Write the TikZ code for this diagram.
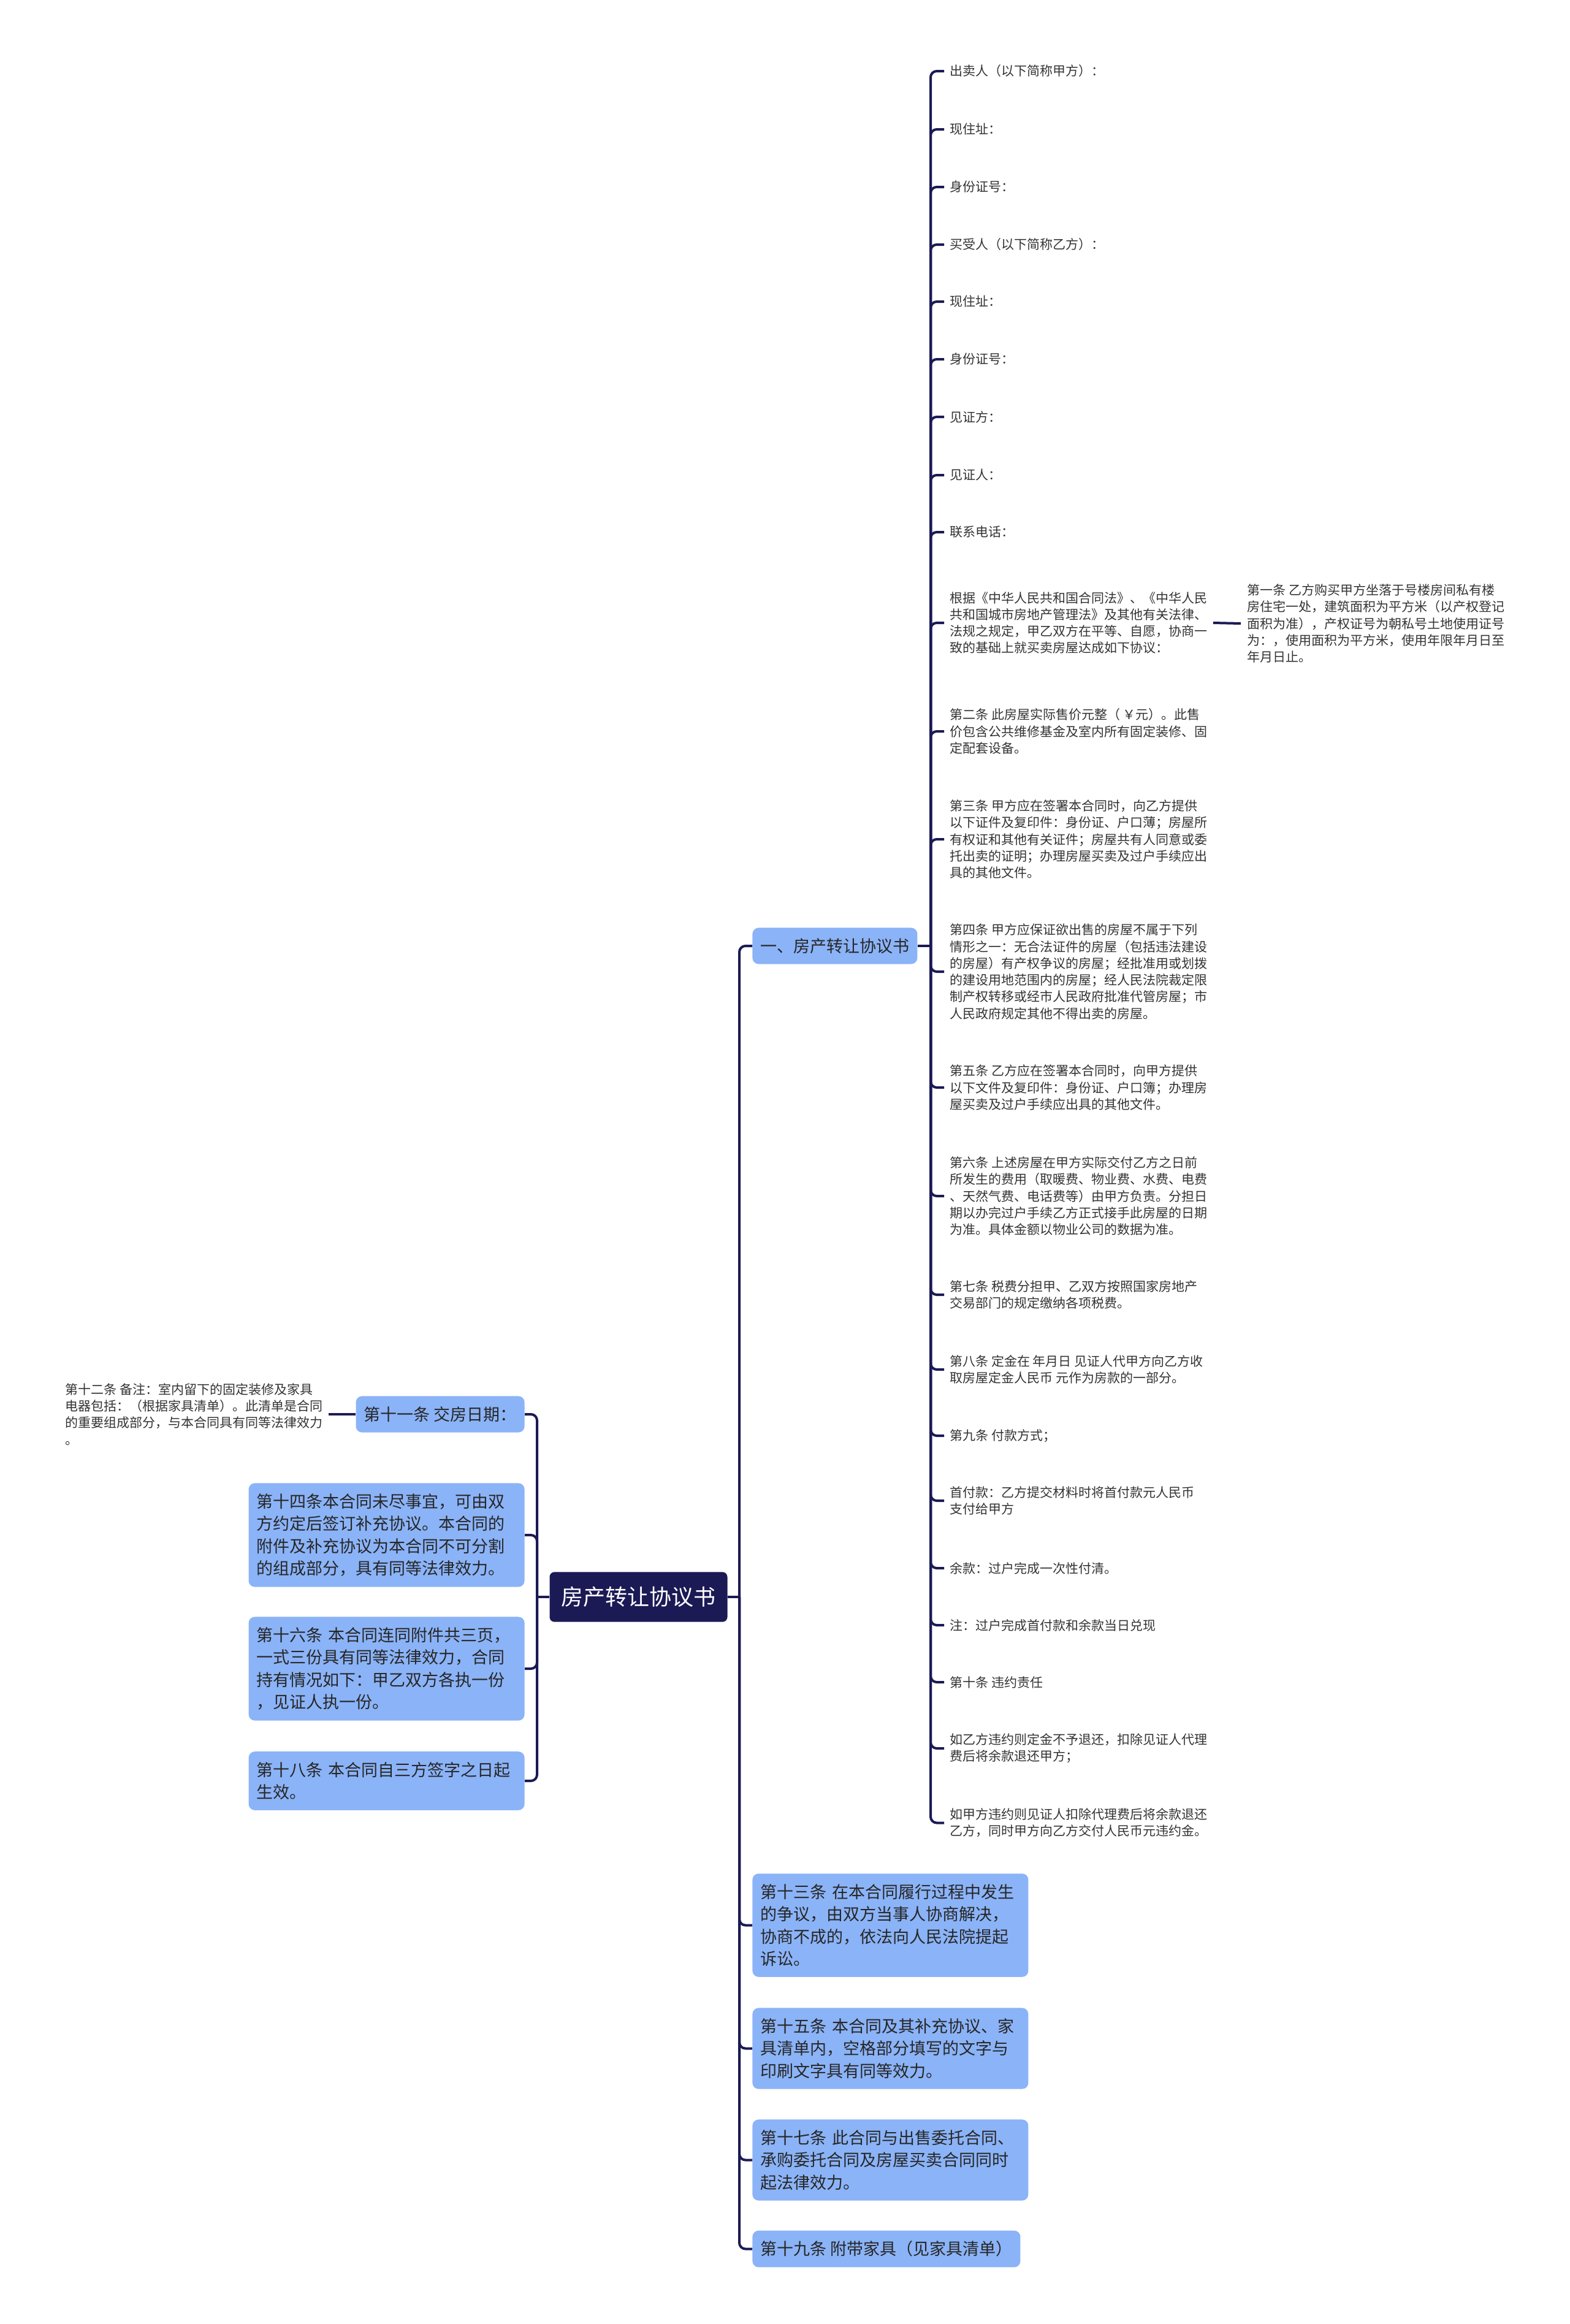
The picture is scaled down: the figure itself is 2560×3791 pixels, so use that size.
\documentclass[tikz,border=0pt]{standalone}
\usepackage{fontspec}
\setmainfont{Noto Sans CJK SC}
\definecolor{navy}{RGB}{27,26,85}
\definecolor{skyfill}{RGB}{139,179,247}
\definecolor{leaftext}{RGB}{51,51,51}
\begin{document}
\begin{tikzpicture}[x=0.5pt, y=-0.5pt,
        topic/.style={rectangle, fill=navy, rounded corners=4pt, text=white, font=\fontsize{18pt}{22pt}\selectfont, inner xsep=9.5pt, inner ysep=12pt},
        bluebox/.style={rectangle, fill=skyfill, rounded corners=5pt, text=black!85, font=\fontsize{13.5pt}{18.25pt}\selectfont, inner xsep=6.5pt, inner ysep=8.5pt, align=left},
        widebox/.style={bluebox, text width=212pt},
        leaf/.style={text=leaftext, font=\fontsize{10.5pt}{13.65pt}\selectfont, align=left, inner xsep=4.5pt, inner ysep=2pt, anchor=west},
        link/.style={draw=navy, line width=2pt, rounded corners=5pt}
    ]
        % Page
        \fill[white] (0,0) rectangle (2560,3791);
        \useasboundingbox (0,0) rectangle (2560,3791);

        % Central topic
        \node[topic] (contract) at (1041.5,2605) {房产转让协议书};
        \coordinate (leftFork) at (876,2605);
        \coordinate (rightFork) at (1206,2605);

        % Right branches
        \node[bluebox, anchor=west] (sec1) at (1227,1543) {一、房产转让协议书};
        \node[widebox, anchor=west] (art13) at (1227,3140.5) {第十三条 在本合同履行过程中发生\\的争议，由双方当事人协商解决，\\协商不成的，依法向人民法院提起\\诉讼。};
        \node[widebox, anchor=west] (art15) at (1227,3341.5) {第十五条 本合同及其补充协议、家\\具清单内，空格部分填写的文字与\\印刷文字具有同等效力。};
        \node[widebox, anchor=west] (art17) at (1227,3523.5) {第十七条 此合同与出售委托合同、\\承购委托合同及房屋买卖合同同时\\起法律效力。};
        \node[bluebox, anchor=west] (art19) at (1227,3668.5) {第十九条 附带家具（见家具清单）};

        % Left branches
        \node[bluebox, anchor=east] (art11) at (856,2307) {第十一条 交房日期：};
        \node[leaf, anchor=east] (art12) at (536,2307) {第十二条 备注：室内留下的固定装修及家具\\电器包括：（根据家具清单）。此清单是合同\\的重要组成部分，与本合同具有同等法律效力\\。};
        \node[widebox, anchor=east] (art14) at (856,2504) {第十四条本合同未尽事宜，可由双\\方约定后签订补充协议。本合同的\\附件及补充协议为本合同不可分割\\的组成部分，具有同等法律效力。};
        \node[widebox, anchor=east] (art16) at (856,2722) {第十六条 本合同连同附件共三页，\\一式三份具有同等法律效力，合同\\持有情况如下：甲乙双方各执一份\\，见证人执一份。};
        \node[widebox, anchor=east] (art18) at (856,2905) {第十八条 本合同自三方签字之日起\\生效。};

        % Items of section one
        \coordinate (secFork) at (1518,1543);
        \node[leaf] (seller) at (1540,116) {出卖人（以下简称甲方）：};
        \node[leaf] (sellerAddr) at (1540,211) {现住址：};
        \node[leaf] (sellerId) at (1540,305) {身份证号：};
        \node[leaf] (buyer) at (1540,399) {买受人（以下简称乙方）：};
        \node[leaf] (buyerAddr) at (1540,492) {现住址：};
        \node[leaf] (buyerId) at (1540,586) {身份证号：};
        \node[leaf] (witnessParty) at (1540,680) {见证方：};
        \node[leaf] (witness) at (1540,775) {见证人：};
        \node[leaf] (phone) at (1540,868) {联系电话：};
        \node[leaf] (basis) at (1540,1016) {根据《中华人民共和国合同法》、《中华人民\\共和国城市房地产管理法》及其他有关法律、\\法规之规定，甲乙双方在平等、自愿，协商一\\致的基础上就买卖房屋达成如下协议：};
        \node[leaf, inner xsep=5pt] (art1) at (2024,1017) {第一条 乙方购买甲方坐落于号楼房间私有楼\\房住宅一处，建筑面积为平方米（以产权登记\\面积为准），产权证号为朝私号土地使用证号\\为：，使用面积为平方米，使用年限年月日至\\年月日止。};
        \node[leaf] (art2) at (1540,1193) {第二条 此房屋实际售价元整（ ￥元）。此售\\价包含公共维修基金及室内所有固定装修、固\\定配套设备。};
        \node[leaf] (art3) at (1540,1369) {第三条 甲方应在签署本合同时，向乙方提供\\以下证件及复印件：身份证、户口薄；房屋所\\有权证和其他有关证件；房屋共有人同意或委\\托出卖的证明；办理房屋买卖及过户手续应出\\具的其他文件。};
        \node[leaf] (art4) at (1540,1585) {第四条 甲方应保证欲出售的房屋不属于下列\\情形之一：无合法证件的房屋（包括违法建设\\的房屋）有产权争议的房屋；经批准用或划拨\\的建设用地范围内的房屋；经人民法院裁定限\\制产权转移或经市人民政府批准代管房屋；市\\人民政府规定其他不得出卖的房屋。};
        \node[leaf] (art5) at (1540,1774) {第五条 乙方应在签署本合同时，向甲方提供\\以下文件及复印件：身份证、户口簿；办理房\\屋买卖及过户手续应出具的其他文件。};
        \node[leaf] (art6) at (1540,1951) {第六条 上述房屋在甲方实际交付乙方之日前\\所发生的费用（取暖费、物业费、水费、电费\\、天然气费、电话费等）由甲方负责。分担日\\期以办完过户手续乙方正式接手此房屋的日期\\为准。具体金额以物业公司的数据为准。};
        \node[leaf] (art7) at (1540,2112) {第七条 税费分担甲、乙双方按照国家房地产\\交易部门的规定缴纳各项税费。};
        \node[leaf] (art8) at (1540,2234) {第八条 定金在 年月日 见证人代甲方向乙方收\\取房屋定金人民币 元作为房款的一部分。};
        \node[leaf] (art9) at (1540,2342) {第九条 付款方式；};
        \node[leaf] (downPay) at (1540,2448) {首付款：乙方提交材料时将首付款元人民币\\支付给甲方};
        \node[leaf] (balance) at (1540,2558) {余款：过户完成一次性付清。};
        \node[leaf] (note) at (1540,2651) {注：过户完成首付款和余款当日兑现};
        \node[leaf] (art10) at (1540,2744) {第十条 违约责任};
        \node[leaf] (breachB) at (1540,2852) {如乙方违约则定金不予退还，扣除见证人代理\\费后将余款退还甲方；};
        \node[leaf] (breachA) at (1540,2973.5) {如甲方违约则见证人扣除代理费后将余款退还\\乙方，同时甲方向乙方交付人民币元违约金。};

        % Connections central topic
        \draw[link] (contract.east) -- (rightFork);
        \draw[link] (contract.west) -- (leftFork);
        \draw[link] (rightFork) |- (sec1.west);
        \draw[link] (rightFork) |- (art13.west);
        \draw[link] (rightFork) |- (art15.west);
        \draw[link] (rightFork) |- (art17.west);
        \draw[link] (rightFork) |- (art19.west);
        \draw[link] (leftFork) |- (art11.east);
        \draw[link] (leftFork) |- (art14.east);
        \draw[link] (leftFork) |- (art16.east);
        \draw[link] (leftFork) |- (art18.east);
        \draw[link] (art11.west) -- (art12.east);

        % Connections section one
        \draw[link] (sec1.east) -- (secFork);
        \draw[link] (secFork) |- (seller.west);
        \draw[link] (secFork) |- (sellerAddr.west);
        \draw[link] (secFork) |- (sellerId.west);
        \draw[link] (secFork) |- (buyer.west);
        \draw[link] (secFork) |- (buyerAddr.west);
        \draw[link] (secFork) |- (buyerId.west);
        \draw[link] (secFork) |- (witnessParty.west);
        \draw[link] (secFork) |- (witness.west);
        \draw[link] (secFork) |- (phone.west);
        \draw[link] (secFork) |- (basis.west);
        \draw[link] (secFork) |- (art2.west);
        \draw[link] (secFork) |- (art3.west);
        \draw[link] (secFork) |- (art4.west);
        \draw[link] (secFork) |- (art5.west);
        \draw[link] (secFork) |- (art6.west);
        \draw[link] (secFork) |- (art7.west);
        \draw[link] (secFork) |- (art8.west);
        \draw[link] (secFork) |- (art9.west);
        \draw[link] (secFork) |- (downPay.west);
        \draw[link] (secFork) |- (balance.west);
        \draw[link] (secFork) |- (note.west);
        \draw[link] (secFork) |- (art10.west);
        \draw[link] (secFork) |- (breachB.west);
        \draw[link] (secFork) |- (breachA.west);
        \draw[link] (basis.east) -- (art1.west);
    \end{tikzpicture}
\end{document}
